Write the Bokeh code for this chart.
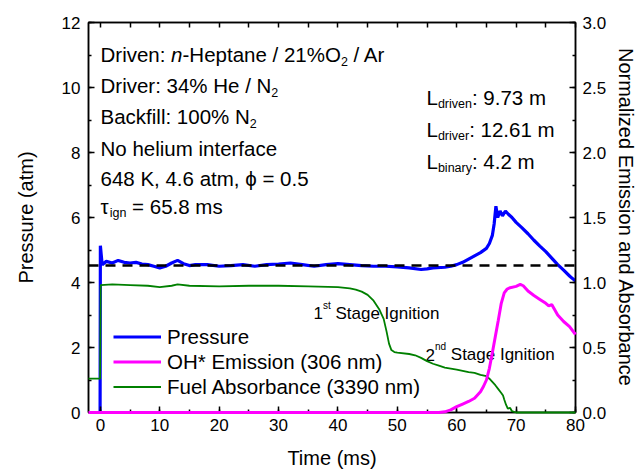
from bokeh.plotting import figure
from bokeh.models import (Range1d, LinearAxis, SingleIntervalTicker, NumeralTickFormatter,
                          Legend, LegendItem, ColumnDataSource)
from bokeh.embed import file_html
from bokeh.resources import INLINE
from bokeh.core.properties import value

FONT = "Liberation Sans"

# ---------------- data ----------------
time_pressure = [-2, -0.05, 0.0, 0.3, 1, 2, 3, 4, 5, 6, 7, 8, 9, 10, 11, 12, 13, 14, 15, 16, 18, 20,
                 22, 24, 26, 28, 30, 32, 34, 36, 38, 40, 42, 44, 46, 48, 50, 52, 54, 55, 56, 58, 59,
                 60, 61, 62, 63, 64, 65, 65.5, 66, 66.3, 66.6, 66.9, 67.3, 67.7, 68.2, 68.7, 69.3,
                 70, 71, 72, 73, 74, 75, 76, 77, 78, 79, 79.5, 80]
pressure = [0.0, 0.0, 5.13, 4.55, 4.65, 4.6, 4.68, 4.62, 4.6, 4.62, 4.57, 4.55, 4.5, 4.45, 4.5, 4.6,
            4.68, 4.58, 4.52, 4.55, 4.55, 4.5, 4.52, 4.55, 4.5, 4.55, 4.57, 4.6, 4.55, 4.5, 4.55,
            4.58, 4.55, 4.52, 4.5, 4.5, 4.48, 4.45, 4.4, 4.42, 4.45, 4.47, 4.5,
            4.55, 4.62, 4.72, 4.82, 4.92, 5.05, 5.2, 5.45, 5.8, 6.35, 6.0, 6.2, 6.05, 6.2, 6.1, 6.0,
            5.85, 5.68, 5.5, 5.3, 5.12, 4.95, 4.75, 4.55, 4.38, 4.2, 4.12, 4.05]

time_reference = [-2, 80]
reference_pressure = [4.52, 4.52]

time_oh = [-2, 57, 58, 59, 60, 61, 62, 63, 64, 64.5, 65, 65.5, 66, 66.5, 67, 67.5, 68, 68.5, 69,
           70, 70.7, 71.2, 72, 73, 74, 75, 75.5, 76, 76.5, 77, 78, 79, 80]
oh_emission = [0.0, 0.0, 0.005, 0.02, 0.045, 0.065, 0.085, 0.11, 0.16, 0.2, 0.25, 0.34, 0.46, 0.585,
               0.71, 0.84, 0.92, 0.95, 0.96, 0.97, 0.985, 0.975, 0.935, 0.9, 0.87, 0.84, 0.82,
               0.83, 0.79, 0.75, 0.7, 0.66, 0.6]

time_fuel = [-2, -0.05, 0.05, 2, 5, 8, 10, 12, 13, 15, 20, 25, 30, 35, 40, 42, 43, 44, 45, 46, 47,
             47.7, 48.2, 48.6, 49, 49.5, 50, 52, 53, 54, 55, 56, 57, 58, 60, 62, 63, 64, 65, 65.5,
             66, 66.5, 67, 67.5, 67.8, 68, 68.3, 68.6, 69, 69.3, 70, 80]
fuel_absorbance = [0.26, 0.26, 0.98, 0.985, 0.98, 0.975, 0.965, 0.975, 0.985, 0.975, 0.97, 0.975,
                   0.975, 0.97, 0.965, 0.955, 0.945, 0.93, 0.905, 0.86, 0.79, 0.72, 0.62, 0.53,
                   0.48, 0.465, 0.46, 0.45, 0.44, 0.42, 0.395, 0.375, 0.36, 0.345, 0.33, 0.31,
                   0.305, 0.29, 0.28, 0.26, 0.235, 0.21, 0.18, 0.15, 0.13, 0.1, 0.06, 0.03, 0.035,
                   0.01, 0.0, 0.0]

legend_labels = ["Pressure", "OH* Emission (306 nm)", "Fuel Absorbance (3390 nm)"]

# ---------------- figure ----------------
X0, X1 = -2, 80
Y0, Y1 = 0, 12
FL, FR, FT, FB = 88.0, 575.0, 22.0, 413.0   # frame edges (page px)
WIDTH, HEIGHT = 640, 471
p = figure(width=WIDTH, height=HEIGHT, output_backend="svg", toolbar_location=None,
           x_range=Range1d(X0, X1), y_range=Range1d(Y0, Y1),
           min_border_left=int(FL), min_border_right=int(WIDTH - FR),
           min_border_top=int(FT), min_border_bottom=int(HEIGHT - FB))
p.extra_y_ranges = {"right": Range1d(0, 3)}
p.grid.visible = False
p.outline_line_color = "black"
p.outline_line_width = 1.5
p.background_fill_color = "white"
p.border_fill_color = "white"


def style_axis(ax):
    ax.axis_line_width = 1.5
    ax.axis_line_color = "black"
    ax.major_tick_in = 6
    ax.major_tick_out = 0
    ax.minor_tick_in = 3
    ax.minor_tick_out = 0
    ax.major_tick_line_width = 1.5
    ax.minor_tick_line_width = 1.5
    ax.major_label_text_font = FONT
    ax.major_label_text_font_size = "17px"
    ax.major_label_text_color = "black"
    ax.axis_label_text_font = FONT
    ax.axis_label_text_font_size = "20px"
    ax.axis_label_text_font_style = "normal"
    ax.axis_label_text_color = "black"


xa = p.xaxis[0]
xa.ticker = SingleIntervalTicker(interval=10, num_minor_ticks=2)
xa.axis_label = "Time (ms)"
style_axis(xa)
xa.major_label_standoff = 6
xa.axis_label_standoff = 13

ya = p.yaxis[0]
ya.ticker = SingleIntervalTicker(interval=2, num_minor_ticks=2)
ya.axis_label = "Pressure (atm)"
style_axis(ya)
ya.major_label_standoff = 8
ya.axis_label_standoff = 22

ra = LinearAxis(y_range_name="right", axis_label="Normalized Emission and Absorbance",
                ticker=SingleIntervalTicker(interval=0.5, num_minor_ticks=2),
                formatter=NumeralTickFormatter(format="0.0"))
style_axis(ra)
ra.major_label_standoff = 7
ra.axis_label_standoff = 6
p.add_layout(ra, "right")

ta = LinearAxis(ticker=SingleIntervalTicker(interval=5, num_minor_ticks=0))
style_axis(ta)
ta.major_tick_in = 5
ta.major_label_text_font_size = "0px"
ta.major_label_text_color = None
ta.major_label_standoff = 0
p.add_layout(ta, "above")

# ---------------- lines ----------------
r_p = p.line(time_pressure, pressure, line_color="#0000FF", line_width=3.2)
p.line(time_reference, reference_pressure, line_color="black", line_width=2.5, line_dash="10 7")
r_f = p.line(time_fuel, fuel_absorbance, line_color="#008000", line_width=1.8,
             y_range_name="right", level="overlay")
r_o = p.line(time_oh, oh_emission, line_color="#FF00FF", line_width=3.0,
             y_range_name="right", level="overlay")

legend = Legend(items=[LegendItem(label=legend_labels[0], renderers=[r_p]),
                       LegendItem(label=legend_labels[1], renderers=[r_o]),
                       LegendItem(label=legend_labels[2], renderers=[r_f])],
                location=(25, 13), border_line_color=None, background_fill_alpha=0,
                padding=0, margin=0, spacing=0, glyph_width=48, glyph_height=25,
                label_height=25, label_standoff=6, label_text_font=FONT,
                label_text_font_size="20.5px", label_text_color="black")
p.add_layout(legend)

# ---------------- text annotations ----------------
PX_X = (FR - FL) / (X1 - X0)
PX_Y = (FB - FT) / (Y1 - Y0)


def to_x(px):
    return X0 + (px - FL) / PX_X


def to_y(py):
    return Y0 + (FB - py) / PX_Y


W = {' ': 278, '!': 278, '%': 889, '(': 333, ')': 333, '*': 389, ',': 278, '-': 333, '.': 278,
     '/': 278, ':': 278, '=': 584, 'A': 667, 'B': 667, 'D': 722, 'E': 667, 'H': 722, 'I': 278,
     'K': 667, 'L': 556, 'N': 722, 'O': 778, 'P': 667, 'S': 667, 'T': 611, 'a': 556, 'b': 556,
     'c': 500, 'd': 556, 'e': 556, 'f': 278, 'g': 556, 'h': 556, 'i': 222, 'k': 500, 'l': 222,
     'm': 833, 'n': 556, 'o': 556, 'p': 556, 'r': 333, 's': 500, 't': 278, 'u': 556, 'v': 500,
     'y': 500, '\u03c4': 450, '\u03d5': 650}


def width(txt, size):
    return sum(W.get(c, 556) for c in txt) / 1000.0 * size


groups = {}


def add_line(px, py, segs):
    x = px
    for txt, size, off, style in segs:
        lead = len(txt) - len(txt.lstrip(" "))
        x += width(" " * lead, size)
        core = txt.strip(" ")
        g = groups.setdefault((size, style), dict(x=[], y=[], text=[]))
        g["x"].append(to_x(x))
        g["y"].append(to_y(py + off))
        g["text"].append(core)
        x += width(txt.lstrip(" "), size)


F, S = 20.5, 12.5
N, I = "normal", "italic"
add_line(100, 54, [("Driven: ", F, 0, N), ("n", F, 0, I), ("-Heptane / 21%O", F, 0, N),
                   ("2", S, 7, N), (" / Ar", F, 0, N)])
add_line(100, 85.5, [("Driver: 34% He / N", F, 0, N), ("2", S, 7, N)])
add_line(100, 116.5, [("Backfill: 100% N", F, 0, N), ("2", S, 7, N)])
add_line(100, 148, [("No helium interface", F, 0, N)])
add_line(100, 178.5, [("648 K, 4.6 atm, \u03d5 = 0.5", F, 0, N)])
add_line(100, 206, [("\u03c4", F, 0, N), ("ign", S, 7, N), (" = 65.8 ms", F, 0, N)])

add_line(426, 97, [("L", F, 0, N), ("driven", S, 7, N), (": 9.73 m", F, 0, N)])
add_line(426, 129, [("L", F, 0, N), ("driver", S, 7, N), (": 12.61 m", F, 0, N)])
add_line(426, 161, [("L", F, 0, N), ("binary", S, 7, N), (": 4.2 m", F, 0, N)])

A, SUP = 17, 10
add_line(313, 313.5, [("1", A, 0, N), ("st", SUP, -8, N), (" Stage Ignition", A, 0, N)])
add_line(425, 355, [("2", A, 0, N), ("nd", SUP, -8, N), (" Stage Ignition", A, 0, N)])

for (size, style), g in groups.items():
    p.text(x="x", y="y", text="text", source=ColumnDataSource(g), text_font=value(FONT),
           text_font_size=value("%.1fpx" % size), text_font_style=value(style),
           text_color="black", text_align="left", text_baseline="alphabetic")

open("out.html", "w").write(file_html(p, INLINE))
